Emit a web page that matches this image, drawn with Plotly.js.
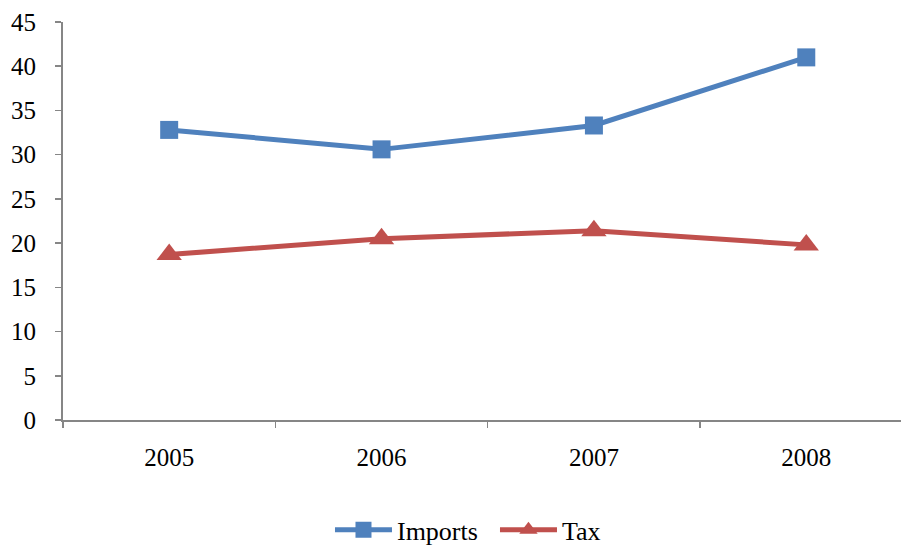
<!DOCTYPE html>
<html>
<head>
<meta charset="utf-8">
<script src="https://cdn.plot.ly/plotly-3.0.1.min.js"></script>
<style>
  html, body { margin: 0; padding: 0; background: #ffffff; }
  #chart { width: 901px; height: 545px; }
</style>
</head>
<body>
<div id="chart"></div>
<script>
// Yearly series
const years = ['2005', '2006', '2007', '2008'];
const imports = [32.8, 30.6, 33.3, 41.0];
const tax = [18.7, 20.5, 21.4, 19.8];
const yTicks = [0, 5, 10, 15, 20, 25, 30, 35, 40, 45];

const axisGrey = '#868686';
const serif = 'Liberation Serif';

const traces = [
  {
    x: years, y: imports, name: 'Imports', type: 'scatter', mode: 'lines+markers',
    line: { color: '#4F81BD', width: 5 },
    marker: { symbol: 'square', size: 18, color: '#4F81BD' }
  },
  {
    x: years, y: tax, name: 'Tax', type: 'scatter', mode: 'lines+markers',
    line: { color: '#C0504D', width: 5 },
    marker: { symbol: 'triangle-up', size: 22, color: '#C0504D' }
  }
];

const layout = {
  width: 901, height: 545,
  margin: { l: 63, r: 0, t: 22, b: 125, autoexpand: false },
  paper_bgcolor: '#ffffff', plot_bgcolor: '#ffffff',
  font: { family: serif, size: 25, color: '#000000' },
  showlegend: true,
  legend: {
    orientation: 'h', x: 0.3186, xanchor: 'left', xref: 'paper',
    yref: 'container', y: 0.028, yanchor: 'middle',
    font: { family: serif, size: 26, color: '#000000' },
    itemwidth: 57, entrywidth: 93, entrywidthmode: 'pixels', tracegroupgap: 0
  },
  xaxis: {
    type: 'category', range: [-0.5, 3.446],
    showgrid: false, zeroline: false,
    showline: true, linecolor: axisGrey, linewidth: 2,
    ticks: 'outside', tickson: 'boundaries', ticklen: 6, tickcolor: axisGrey, tickwidth: 1.5,
    ticklabelstandoff: 14,
    tickfont: { family: serif, size: 25, color: '#000000' }
  },
  yaxis: {
    range: [0, 45], tickvals: yTicks,
    showgrid: false, zeroline: false,
    showline: true, linecolor: axisGrey, linewidth: 2,
    ticks: 'outside', ticklen: 6, tickcolor: axisGrey, tickwidth: 1.5,
    ticklabelstandoff: 14,
    tickfont: { family: serif, size: 25, color: '#000000' }
  }
};

Plotly.newPlot('chart', traces, layout, { displayModeBar: false, staticPlot: true });
</script>
</body>
</html>
